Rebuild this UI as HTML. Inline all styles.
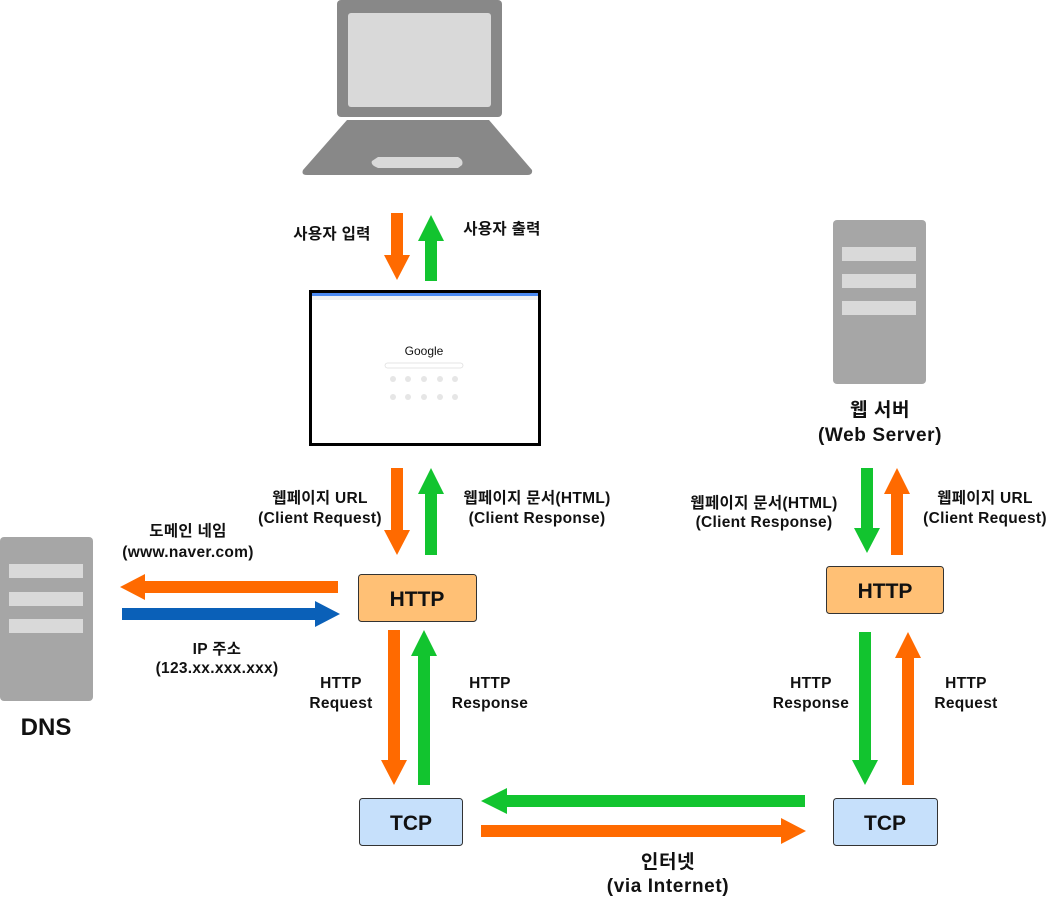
<!DOCTYPE html>
<html><head><meta charset="utf-8"><style>
body{margin:0;background:#fff}
svg{display:block}
text{font-family:"Liberation Sans","Noto Sans CJK KR",sans-serif;font-weight:bold;fill:#111;text-anchor:middle}
</style></head><body>
<svg width="1049" height="898" viewBox="0 0 1049 898" xmlns="http://www.w3.org/2000/svg">
<!-- laptop -->
<rect x="337" y="0" width="165" height="117" rx="4" fill="#888"/>
<rect x="348" y="13" width="143" height="94" rx="3" fill="#d9d9d9"/>
<path d="M347 120 L489 120 L532 170 Q533 175 527 175 L307 175 Q301 175 303 170 Z" fill="#888"/>
<path d="M378 157 L458 157 Q464 160 462 165 L458 168 L378 168 Q370 165 372 161 Z" fill="#d9d9d9"/>
<!-- DNS server -->
<rect x="0" y="537" width="93" height="164" rx="4" fill="#a6a6a6"/>
<rect x="9" y="564" width="74" height="14" fill="#d9d9d9"/>
<rect x="9" y="592" width="74" height="14" fill="#d9d9d9"/>
<rect x="9" y="619" width="74" height="14" fill="#d9d9d9"/>
<text x="46" y="735" font-size="24">DNS</text>
<!-- web server -->
<rect x="833" y="220" width="93" height="164" rx="4" fill="#a6a6a6"/>
<rect x="842" y="247" width="74" height="14" fill="#d9d9d9"/>
<rect x="842" y="274" width="74" height="14" fill="#d9d9d9"/>
<rect x="842" y="301" width="74" height="14" fill="#d9d9d9"/>
<g font-size="19" letter-spacing="0.6">
<text x="880" y="416">웹 서버</text>
<text x="880" y="441">(Web Server)</text>
</g>
<!-- browser -->
<rect x="310.5" y="291.5" width="229" height="153" fill="#fff" stroke="#000" stroke-width="3"/>
<rect x="312" y="293" width="226" height="3" fill="#4a8af4"/>
<rect x="312" y="296" width="226" height="4" fill="#eef1f5"/>
<text x="424" y="355" font-size="12" style="font-weight:normal" fill="#4285f4">Google</text>
<rect x="385" y="363" width="78" height="5" rx="2.5" fill="#fff" stroke="#ddd" stroke-width="0.7"/>
<g fill="#e6e6e6"><circle cx="393" cy="379" r="3"/><circle cx="408" cy="379" r="3"/><circle cx="424" cy="379" r="3"/><circle cx="440" cy="379" r="3"/><circle cx="455" cy="379" r="3"/><circle cx="393" cy="397" r="3"/><circle cx="408" cy="397" r="3"/><circle cx="424" cy="397" r="3"/><circle cx="440" cy="397" r="3"/><circle cx="455" cy="397" r="3"/></g>
<!-- arrows -->
<g fill="#FF6A00">
<polygon points="391,213 403,213 403,255 410,255 397,280 384,255 391,255"/>
<polygon points="391,468 403,468 403,530 410,530 397,555 384,530 391,530"/>
<polygon points="388,630 400,630 400,760 407,760 394,785 381,760 388,760"/>
<polygon points="338,581 338,593 145,593 145,600 120,587 145,574 145,581"/>
<polygon points="481,825 481,837 781,837 781,844 806,831 781,818 781,825"/>
<polygon points="891,555 903,555 903,494 910,494 897,468 884,494 891,494"/>
<polygon points="902,785 914,785 914,658 921,658 908,632 895,658 902,658"/>
</g>
<g fill="#12C42F">
<polygon points="425,281 437,281 437,241 444,241 431,215 418,241 425,241"/>
<polygon points="425,555 437,555 437,494 444,494 431,468 418,494 425,494"/>
<polygon points="418,785 430,785 430,656 437,656 424,630 411,656 418,656"/>
<polygon points="805,795 805,807 507,807 507,814 481,801 507,788 507,795"/>
<polygon points="861,468 873,468 873,528 880,528 867,553 854,528 861,528"/>
<polygon points="859,632 871,632 871,760 878,760 865,785 852,760 859,760"/>
</g>
<polygon points="122,608 122,620 315,620 315,627 340,614 315,601 315,608" fill="#0A60B8"/>
<!-- boxes -->
<rect x="358.5" y="574.5" width="118" height="47" rx="3" fill="#FFC075" stroke="#333"/>
<text x="417" y="606" font-size="21">HTTP</text>
<rect x="826.5" y="566.5" width="117" height="47" rx="3" fill="#FFC075" stroke="#333"/>
<text x="885" y="598" font-size="21">HTTP</text>
<rect x="359.5" y="798.5" width="103" height="47" rx="3" fill="#C6E0FB" stroke="#333"/>
<text x="411" y="830" font-size="21">TCP</text>
<rect x="833.5" y="798.5" width="104" height="47" rx="3" fill="#C6E0FB" stroke="#333"/>
<text x="885" y="830" font-size="21">TCP</text>
<!-- labels -->
<g font-size="15.5" letter-spacing="0.3">
<text x="332" y="239">사용자 입력</text>
<text x="502" y="234">사용자 출력</text>
<text x="320" y="503">웹페이지 URL</text>
<text x="320" y="523">(Client Request)</text>
<text x="537" y="503">웹페이지 문서(HTML)</text>
<text x="537" y="523">(Client Response)</text>
<text x="188" y="536">도메인 네임</text>
<text x="188" y="557">(www.naver.com)</text>
<text x="217" y="654">IP 주소</text>
<text x="217" y="673">(123.xx.xxx.xxx)</text>
<text x="341" y="688">HTTP</text>
<text x="341" y="708">Request</text>
<text x="490" y="688">HTTP</text>
<text x="490" y="708">Response</text>
<text x="764" y="508">웹페이지 문서(HTML)</text>
<text x="764" y="527">(Client Response)</text>
<text x="985" y="503">웹페이지 URL</text>
<text x="985" y="523">(Client Request)</text>
<text x="811" y="688">HTTP</text>
<text x="811" y="708">Response</text>
<text x="966" y="688">HTTP</text>
<text x="966" y="708">Request</text>
</g>
<g font-size="19" letter-spacing="0.6">
<text x="668" y="868">인터넷</text>
<text x="668" y="892">(via Internet)</text>
</g>
</svg>
</body></html>
